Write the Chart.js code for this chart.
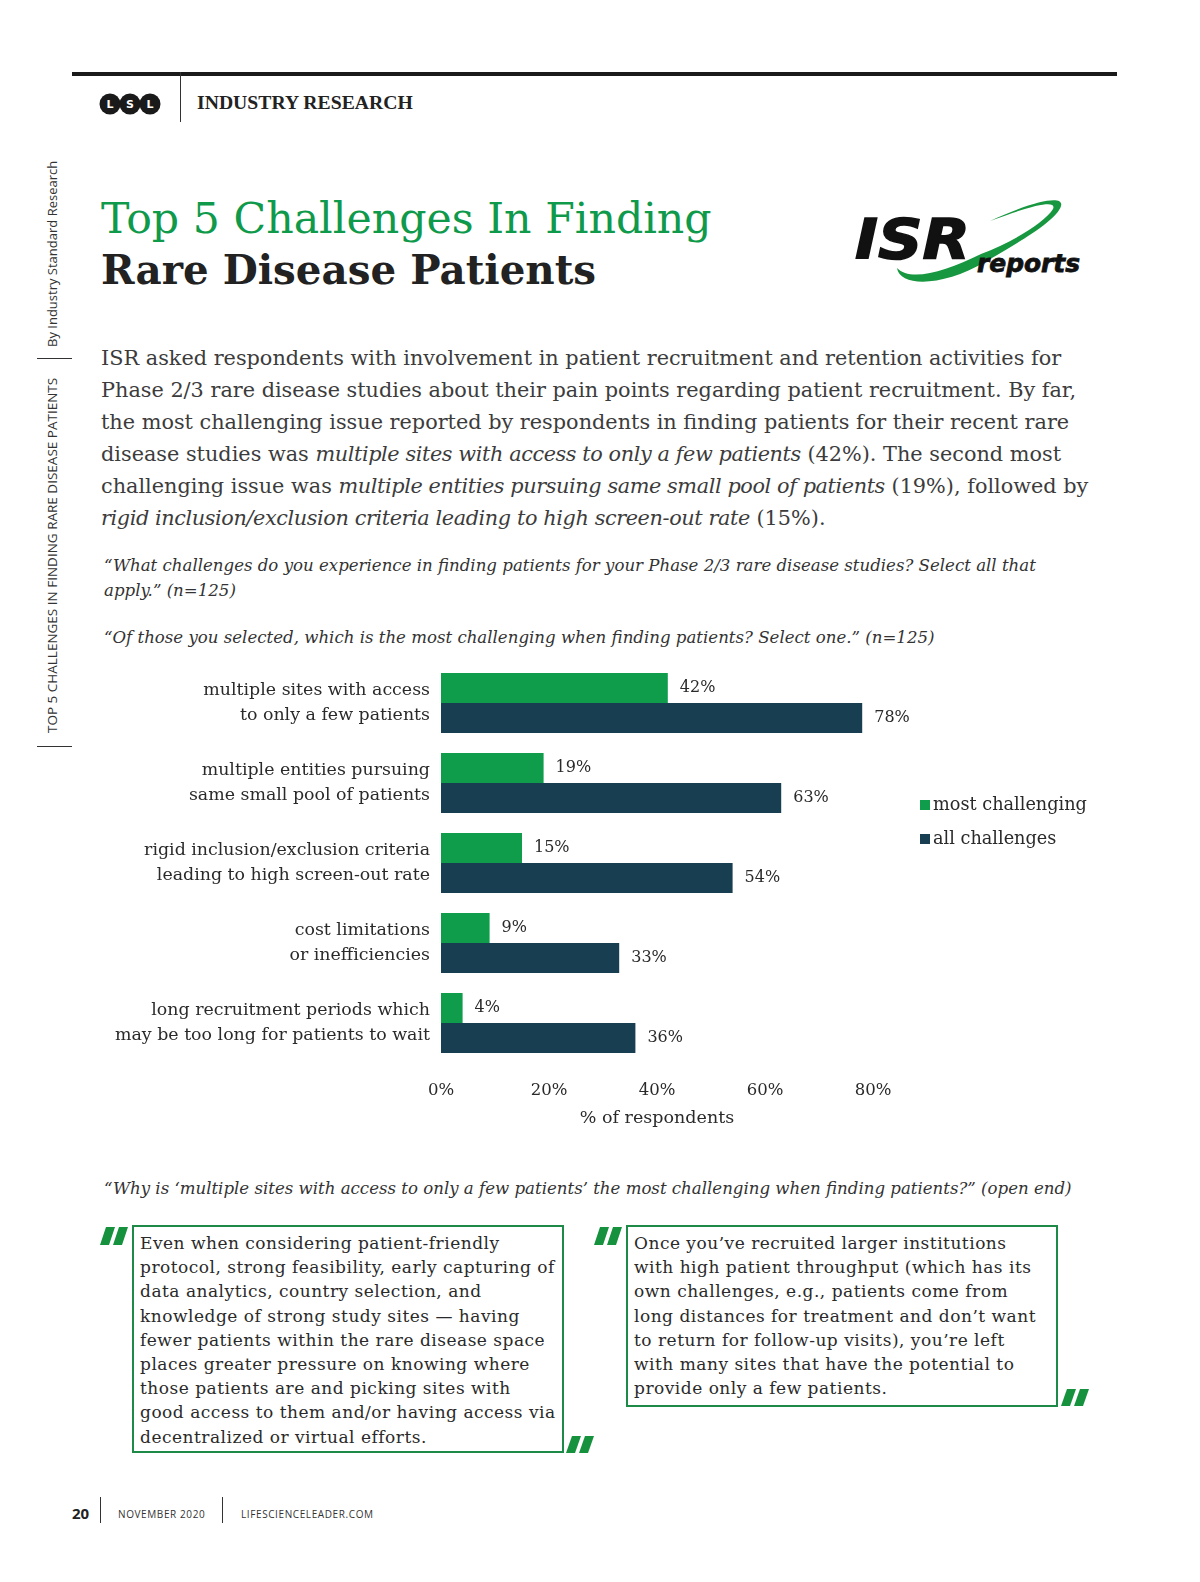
<!DOCTYPE html>
<html>
<head>
<meta charset="utf-8">
<script src="https://cdn.jsdelivr.net/npm/chart.js@4.4.0/dist/chart.umd.min.js"></script>
<style>
  html, body { margin: 0; padding: 0; width: 1200px; height: 1582px; overflow: hidden; background: #fff; }
  #page { position: relative; width: 1200px; height: 1582px; overflow: hidden; font-family: "DejaVu Serif", serif; color: #333; }
  .abs { position: absolute; white-space: nowrap; }
  .topRule { left: 72px; top: 72px; width: 1045px; height: 4px; background: #1a1a1a; }
  .vline { width: 1px; background: #333; }
  .section { left: 197px; top: 91px; font-family: "Liberation Serif", serif; font-weight: bold; font-size: 19.7px; color: #222; }
  .title1 { left: 101px; top: 193px; font-size: 42.7px; color: #0f9a4b; }
  .title2 { left: 101px; top: 246px; font-size: 40.4px; font-weight: bold; color: #222; }
  .body { left: 101px; top: 342px; font-size: 20.8px; line-height: 32px; color: #3c3c3c; }
  .body i { letter-spacing: -0.4px; }
  .q { font-style: italic; font-size: 16.6px; line-height: 25px; color: #333; }
  .side { font-family: "Open Sans", sans-serif; color: #333; transform-origin: 0 0; transform: rotate(-90deg); }
  .quoteBox { border: 2px solid #1e8a47; box-sizing: border-box; padding: 4px 0 0 6px; font-size: 17px; letter-spacing: 0.5px; line-height: 24.2px; color: #2a2a2a; }
  .legend { left: 920px; top: 787px; font-size: 17.7px; line-height: 34px; color: #2a2a2a; }
  .legend span.sw { display: inline-block; width: 10px; height: 10px; margin-right: 3px; }
  .foot { font-family: "Open Sans", sans-serif; font-size: 10px; letter-spacing: 0.6px; color: #333; }
</style>
</head>
<body>
<div id="page">
  <div class="abs topRule"></div>
  <div class="abs vline" style="left:180px; top:72px; height:50px;"></div>
  <svg class="abs" style="left:98px; top:92px;" width="66" height="24">
    <circle cx="12" cy="12" r="10.5" fill="#1a1a1a"/>
    <circle cx="32" cy="12" r="10.5" fill="#1a1a1a"/>
    <circle cx="52" cy="12" r="10.5" fill="#1a1a1a"/>
    <text x="12" y="16" fill="#fff" font-family="DejaVu Sans" font-weight="bold" font-size="11" text-anchor="middle">L</text>
    <text x="32" y="16" fill="#fff" font-family="DejaVu Sans" font-weight="bold" font-size="11" text-anchor="middle">S</text>
    <text x="52" y="16" fill="#fff" font-family="DejaVu Sans" font-weight="bold" font-size="11" text-anchor="middle">L</text>
  </svg>
  <div class="abs section">INDUSTRY RESEARCH</div>

  <div class="abs side" style="left:43px; top:347px; font-size:13px;">By Industry Standard Research</div>
  <div class="abs" style="left:37px; top:358px; width:35px; height:1px; background:#333;"></div>
  <div class="abs side" style="left:43px; top:733px; font-size:13.5px;">TOP 5 CHALLENGES IN FINDING RARE DISEASE PATIENTS</div>
  <div class="abs" style="left:37px; top:746px; width:35px; height:1px; background:#333;"></div>

  <div class="abs title1">Top 5 Challenges In Finding</div>
  <div class="abs title2">Rare Disease Patients</div>

  <svg class="abs" style="left:845px; top:190px;" width="250" height="100">
    <path d="M52 78 C 55 98, 100 96, 140 72 C 175 52, 212 30, 216 16 C 219 6, 195 8, 145 31 C 190 14, 212 10, 208 19 C 200 32, 168 52, 136 64 C 100 82, 65 92, 52 78 Z" fill="#17973f"/>
    <text x="10" y="68" font-family="DejaVu Sans" font-weight="bold" font-style="italic" font-size="55" fill="#111" stroke="#111" stroke-width="1.5" textLength="115" lengthAdjust="spacingAndGlyphs">ISR</text>
    <text x="132" y="82" font-family="DejaVu Sans" font-weight="bold" font-style="italic" font-size="24" fill="#111" stroke="#111" stroke-width="0.8" textLength="103" lengthAdjust="spacingAndGlyphs">reports</text>
  </svg>

  <div class="abs body">
    ISR asked respondents with involvement in patient recruitment and retention activities for<br>
    Phase 2/3 rare disease studies about their pain points regarding patient recruitment. By far,<br>
    the most challenging issue reported by respondents in finding patients for their recent rare<br>
    disease studies was <i>multiple sites with access to only a few patients</i> (42%). The second most<br>
    challenging issue was <i>multiple entities pursuing same small pool of patients</i> (19%), followed by<br>
    <i>rigid inclusion/exclusion criteria leading to high screen-out rate</i> (15%).
  </div>

  <div class="abs q" style="left:104px; top:553px;">“What challenges do you experience in finding patients for your Phase 2/3 rare disease studies? Select all that<br>apply.” (n=125)</div>
  <div class="abs q" style="left:104px; top:625px;">“Of those you selected, which is the most challenging when finding patients? Select one.” (n=125)</div>

  <div class="abs" style="left:100px; top:655px; width:840px; height:490px;">
    <canvas id="challengeChart"></canvas>
  </div>
  <div class="abs legend" id="legend"></div>

  <div class="abs q" style="left:104px; top:1176px;">“Why is ‘multiple sites with access to only a few patients’ the most challenging when finding patients?” (open end)</div>

  <svg class="abs" style="left:100px; top:1227px;" width="32" height="20">
    <polygon points="6,0 15,0 9,18 0,18" fill="#16923f"/>
    <polygon points="19,0 28,0 22,18 13,18" fill="#16923f"/>
  </svg>
  <div class="abs quoteBox" style="left:132px; top:1225px; width:432px; height:228px;">
    Even when considering patient-friendly<br>
    protocol, strong feasibility, early capturing of<br>
    data analytics, country selection, and<br>
    knowledge of strong study sites — having<br>
    fewer patients within the rare disease space<br>
    places greater pressure on knowing where<br>
    those patients are and picking sites with<br>
    good access to them and/or having access via<br>
    decentralized or virtual efforts.
  </div>
  <svg class="abs" style="left:566px; top:1436px;" width="32" height="20">
    <polygon points="6,0 15,0 9,17 0,17" fill="#16923f"/>
    <polygon points="19,0 28,0 22,17 13,17" fill="#16923f"/>
  </svg>

  <svg class="abs" style="left:594px; top:1227px;" width="32" height="20">
    <polygon points="6,0 15,0 9,18 0,18" fill="#16923f"/>
    <polygon points="19,0 28,0 22,18 13,18" fill="#16923f"/>
  </svg>
  <div class="abs quoteBox" style="left:626px; top:1225px; width:432px; height:182px;">
    Once you’ve recruited larger institutions<br>
    with high patient throughput (which has its<br>
    own challenges, e.g., patients come from<br>
    long distances for treatment and don’t want<br>
    to return for follow-up visits), you’re left<br>
    with many sites that have the potential to<br>
    provide only a few patients.
  </div>
  <svg class="abs" style="left:1061px; top:1389px;" width="32" height="20">
    <polygon points="6,0 15,0 9,17 0,17" fill="#16923f"/>
    <polygon points="19,0 28,0 22,17 13,17" fill="#16923f"/>
  </svg>

  <div class="abs" style="left:72px; top:1503px; font-family:'Open Sans',sans-serif; font-weight:bold; font-size:15px; color:#222;">20</div>
  <div class="abs vline" style="left:100px; top:1497px; height:26px;"></div>
  <div class="abs foot" style="left:118px; top:1507px;">NOVEMBER 2020</div>
  <div class="abs vline" style="left:222px; top:1497px; height:26px;"></div>
  <div class="abs foot" style="left:241px; top:1507px;">LIFESCIENCELEADER.COM</div>
</div>

<script>
// Chart data
var categories = [
  ['multiple sites with access', 'to only a few patients'],
  ['multiple entities pursuing', 'same small pool of patients'],
  ['rigid inclusion/exclusion criteria', 'leading to high screen-out rate'],
  ['cost limitations', 'or inefficiencies'],
  ['long recruitment periods which', 'may be too long for patients to wait']
];
var mostChallenging = [42, 19, 15, 9, 4];
var allChallenges = [78, 63, 54, 33, 36];
var seriesNames = ['most challenging', 'all challenges'];
var seriesColors = ['#0f9d4b', '#183e52'];
var xTicks = [0, 20, 40, 60, 80];

// Draw the value labels next to each bar
var barValueLabels = {
  id: 'barValueLabels',
  afterDatasetsDraw: function (chart) {
    var ctx = chart.ctx;
    ctx.save();
    ctx.font = '16px "DejaVu Serif"';
    ctx.fillStyle = '#2a2a2a';
    ctx.textBaseline = 'middle';
    chart.data.datasets.forEach(function (ds, i) {
      var meta = chart.getDatasetMeta(i);
      meta.data.forEach(function (bar, j) {
        ctx.fillText(ds.data[j] + '%', bar.x + 12, bar.y);
      });
    });
    ctx.restore();
  }
};

var ctx = document.getElementById('challengeChart').getContext('2d');
var challengeChart = new Chart(ctx, {
  type: 'bar',
  data: {
    labels: categories,
    datasets: [{
      label: seriesNames[0],
      data: mostChallenging,
      backgroundColor: seriesColors[0]
    }, {
      label: seriesNames[1],
      data: allChallenges,
      backgroundColor: seriesColors[1]
    }]
  },
  options: {
    indexAxis: 'y',
    responsive: true,
    maintainAspectRatio: false,
    animation: false,
    layout: { padding: { top: 8, right: 67, left: 0, bottom: 0 } },
    datasets: { bar: { categoryPercentage: 0.75, barPercentage: 1.0 } },
    plugins: {
      legend: { display: false },
      tooltip: { enabled: false }
    },
    scales: {
      x: {
        min: 0,
        max: 80,
        afterBuildTicks: function (scale) {
          scale.ticks = xTicks.map(function (v) { return { value: v }; });
        },
        afterFit: function (scale) {
          scale.height = 82;
          scale.paddingLeft = 0;
          scale.paddingRight = 0;
        },
        grid: { display: false, drawTicks: false },
        border: { display: false },
        ticks: {
          padding: 18,
          color: '#2a2a2a',
          font: { family: 'DejaVu Serif', size: 16.5 },
          callback: function (v) { return v + '%'; }
        },
        title: {
          display: true,
          text: '% of respondents',
          color: '#2a2a2a',
          font: { family: 'DejaVu Serif', size: 17.5 },
          padding: { top: 0, bottom: 16 }
        }
      },
      y: {
        afterFit: function (scale) {
          scale.width = 341;
          scale.paddingTop = 0;
          scale.paddingBottom = 0;
        },
        grid: { display: false, drawTicks: false },
        border: { display: false },
        ticks: {
          padding: 11,
          color: '#2a2a2a',
          font: { family: 'DejaVu Serif', size: 17.4, lineHeight: 1.48 }
        }
      }
    }
  },
  plugins: [barValueLabels]
});

// HTML legend built from the datasets
var legendHtml = '';
for (var i = 0; i < seriesNames.length; i++) {
  legendHtml += '<div><span class="sw" style="background:' + seriesColors[i] + '"></span>' + seriesNames[i] + '</div>';
}
document.getElementById('legend').innerHTML = legendHtml;
</script>
</body>
</html>
